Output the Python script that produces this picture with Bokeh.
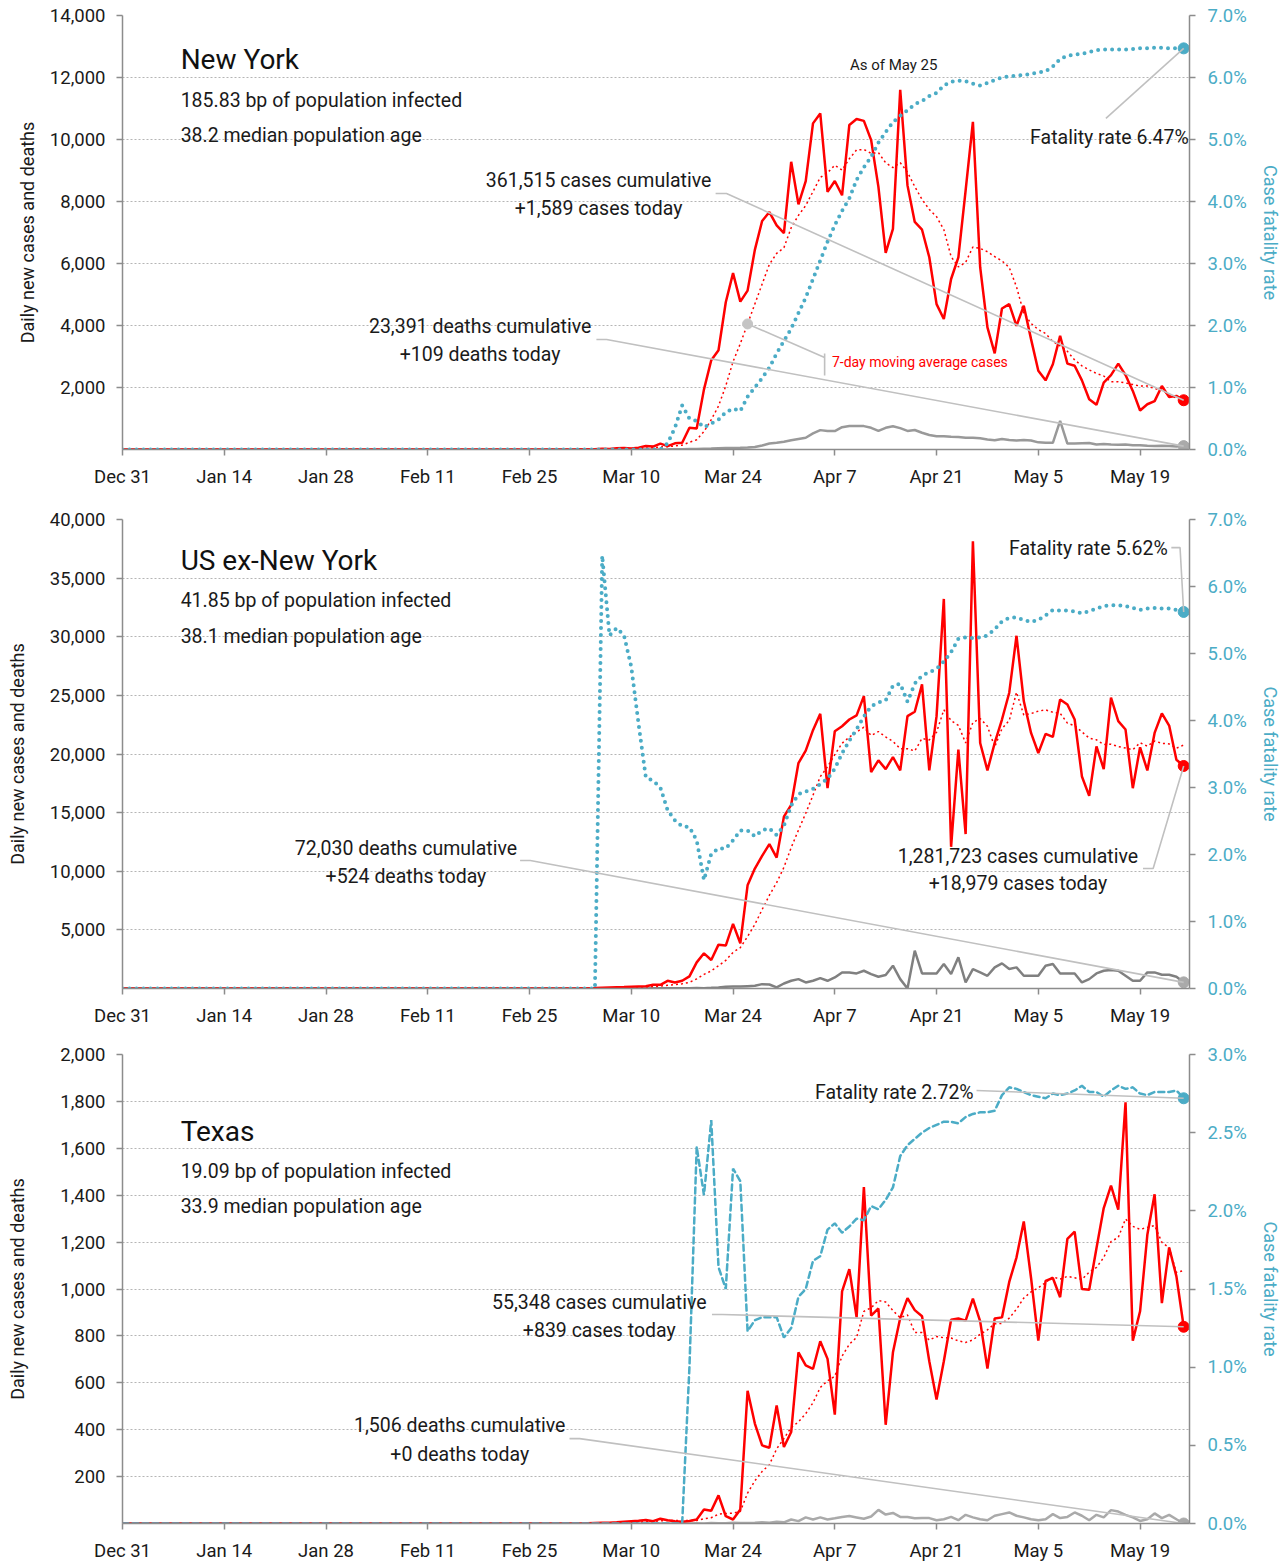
import pandas as pd
from bokeh.plotting import figure
from bokeh.layouts import column
from bokeh.models import (Range1d, LinearAxis, FixedTicker, Label, NumeralTickFormatter,
                          PrintfTickFormatter, ColumnDataSource)
from bokeh.embed import file_html
from bokeh.resources import INLINE

# ---------------------------------------------------------------- data
N_DAYS = 147
START = "2019-12-31"
DATES = pd.date_range(START, periods=N_DAYS, freq="D")

TICK_DATES = ["2019-12-31", "2020-01-14", "2020-01-28", "2020-02-11", "2020-02-25", "2020-03-10",
              "2020-03-24", "2020-04-07", "2020-04-21", "2020-05-05", "2020-05-19"]
TICK_LABELS = ["Dec 31", "Jan 14", "Jan 28", "Feb 11", "Feb 25", "Mar 10",
               "Mar 24", "Apr 7", "Apr 21", "May 5", "May 19"]

# New York (values listed up to May 25; earlier days are zero)
NY_CASES = [1, 0, 9, 11, 10, 22, 14, 37, 47, 30,
            60, 110, 95, 190, 110, 200, 220, 700, 680, 1940,
            2880, 3200, 4750, 5690, 4770, 5125, 6440, 7370, 7660, 7230,
            6980, 9280, 7910, 8660, 10520, 10840, 8310, 8660, 8200, 10470,
            10660, 10600, 9980, 8470, 6340, 7120, 11600, 8520, 7340, 7090,
            6200, 4690, 4210, 5500, 6200, 8360, 10570, 5880, 3940, 3100,
            4550, 4690, 3990, 4640, 3560, 2540, 2230, 2750, 3670, 2770,
            2700, 2230, 1620, 1440, 2160, 2400, 2770, 2400, 1890, 1260,
            1460, 1560, 2050, 1690, 1730, 1589]
NY_DEATHS = [3, 5, 8, 10, 15, 20, 25, 30, 40,
             45, 50, 55, 65, 80, 130, 195, 215,
             250, 300, 340, 380, 520, 625, 595, 595, 720, 755,
             760, 755, 700, 600, 700, 750, 690, 600, 630, 540,
             470, 430,
             430, 410, 400, 380, 380, 360, 320, 300,
             340, 310, 290, 310, 290, 230, 215, 215, 920, 190,
             190, 200, 210, 160, 180, 160, 150, 160, 140, 140,
             120, 110, 120, 110, 100, 109]
NY_RATE = [0.10, 0.35, 0.71, 0.50, 0.46, 0.36, 0.42, 0.48, 0.60, 0.66,
           0.62, 0.85, 1.00, 1.15, 1.32, 1.55, 1.75, 1.95, 2.20, 2.45,
           2.75, 3.05, 3.35, 3.62, 3.85, 4.05, 4.35, 4.55, 4.72, 4.95,
           5.12, 5.28, 5.38, 5.47, 5.57, 5.62, 5.70, 5.75, 5.87, 5.93,
           5.95, 5.94, 5.90, 5.87, 5.91, 5.96, 6.00, 6.02, 6.03, 6.04,
           6.06, 6.08, 6.10, 6.18, 6.30, 6.35, 6.37, 6.38, 6.41, 6.44,
           6.45, 6.45, 6.45, 6.45, 6.46, 6.47, 6.47, 6.48, 6.48, 6.47,
           6.47, 6.47]

# US excluding New York
US_CASES = [5, 8, 10, 20, 25, 40, 60, 80,
            100, 120, 150, 180, 200, 314, 314, 657, 514, 657,
            1030, 2230, 3000, 2430, 3740, 3660, 5510, 3860, 8800, 10230,
            11310, 12310, 11170, 14660, 15660, 19230, 20290, 22030, 23430, 17090,
            21940, 22370, 22940, 23290, 24940, 18460, 19460, 18710, 19742, 18600,
            23227, 23599, 25942, 18600, 23227, 33227, 12085, 20370, 13170, 38140,
            20942, 18600, 20942, 22942, 25227, 30084, 24513, 21799, 20085, 21713,
            21456, 24656, 24227, 22942, 18085, 16428, 20656, 18713, 24799, 22799,
            22085, 17085, 20570, 18600, 21799, 23456, 22428, 19513, 18979]
US_DEATHS = [1, 0, 2, 3, 2, 4, 3, 4, 5, 8,
             7, 8, 10, 15, 12, 18, 20, 25, 30, 40,
             30, 57, 86, 143, 171, 171, 200, 228, 371, 343,
             100, 428, 657, 800, 514, 657, 886, 657, 943, 1371,
             1371, 1286, 1514, 1228, 1000, 1150, 1943, 800, 0, 3228,
             1286, 1286, 1286, 2086, 1228, 2657, 514, 1657, 1371, 1086,
             1800, 2143, 1657, 1800, 1086, 1086, 1086, 1943, 2086, 1286,
             1286, 1286, 514, 800, 1286, 1514, 1571, 1514, 1086, 657,
             657, 1371, 1371, 1171, 1171, 1000, 524]
US_RATE = [6.46, 5.27, 5.38, 5.27, 4.80, 3.95, 3.15, 3.10, 3.00, 2.66,
           2.51, 2.42, 2.41, 2.21, 1.62, 2.01, 2.09, 2.09, 2.21, 2.36,
           2.36, 2.27, 2.36, 2.39, 2.29, 2.43, 2.73, 2.90, 2.94, 2.98,
           3.05, 3.13, 3.28, 3.51, 3.70, 3.87, 4.06, 4.21, 4.27, 4.30,
           4.52, 4.55, 4.28, 4.55, 4.67, 4.72, 4.77, 4.88, 5.02, 5.22,
           5.24, 5.23, 5.24, 5.27, 5.36, 5.48, 5.53, 5.54, 5.50, 5.47,
           5.50, 5.57, 5.65, 5.64, 5.64, 5.63, 5.60, 5.63, 5.67, 5.71,
           5.72, 5.72, 5.71, 5.68, 5.65, 5.67, 5.68, 5.67, 5.67, 5.65,
           5.62]

# Texas
TX_CASES = [1, 2, 3, 3, 5, 8, 10, 12, 15, 10, 20,
            14, 10, 7, 11, 17, 60, 54, 120, 31, 17, 60,
            566, 426, 333, 323, 503, 326, 390, 730, 674, 659,
            777, 702, 464, 990, 1085, 879, 1435, 886, 917, 421,
            730, 876, 961, 910, 884, 692, 529, 692, 869, 874,
            865, 959, 862, 661, 874, 879, 1030, 1135, 1288, 1047,
            780, 1035, 1047, 965, 1214, 1245, 1000, 997, 1174, 1345,
            1441, 1338, 1796, 780, 905, 1231, 1404, 940, 1177, 1054, 839]
TX_DEATHS = [1, 0, 2, 1, 1, 3, 2, 2, 3, 5, 3,
             8, 5, 17, 10, 26, 17, 26, 17, 22, 28,
             32, 26, 20, 30, 58, 38, 45, 28, 28, 22,
             23, 23, 14, 18, 28, 14, 37, 26, 18, 14,
             33, 40, 47, 33, 26, 18, 14, 18, 40, 23,
             28, 47, 33, 14, 37, 26, 57, 51, 37, 26,
             11, 18, 43, 23, 37, 18, 0]
TX_RATE = [1.00, 2.41, 2.10, 2.58, 1.64, 1.50, 2.27, 2.19, 1.23, 1.30,
           1.32, 1.32, 1.32, 1.19, 1.25, 1.45, 1.50, 1.68, 1.71, 1.88,
           1.92, 1.86, 1.90, 1.95, 1.94, 2.03, 2.01, 2.07, 2.15, 2.35,
           2.42, 2.46, 2.50, 2.53, 2.55, 2.57, 2.57, 2.56, 2.60, 2.62,
           2.63, 2.63, 2.64, 2.74, 2.79, 2.78, 2.76, 2.74, 2.73, 2.72,
           2.75, 2.74, 2.75, 2.77, 2.80, 2.76, 2.76, 2.73, 2.77, 2.80,
           2.78, 2.79, 2.75, 2.74, 2.76, 2.76, 2.76, 2.77, 2.72]

# ---------------------------------------------------------------- style
TEAL = "#4bacc6"
RED = "#ff0000"
INK = "#1a1a1a"
CONN = "#c0c0c0"
AXIS = "#8c8c8c"
FONT = "Roboto"
ANN = "19.5px"


def pad(values):
    return [0.0] * (N_DAYS - len(values)) + [float(v) for v in values]


def ms(d):
    return (pd.Timestamp(START) + pd.Timedelta(days=d)).value / 1e6


def panel(cases, deaths, rate, ymax, ystep, rmax, rstep, height, btop, bbot,
          rate_dash, rate_width, death_color, ylab_standoff):
    cases, deaths, rate = pad(cases), pad(deaths), pad(rate)
    ma = pd.Series(cases).rolling(7).mean().tolist()
    p = figure(width=1283, height=height, x_axis_type="datetime", output_backend="svg",
               toolbar_location=None, min_border_left=122, min_border_right=91,
               min_border_top=btop, min_border_bottom=bbot,
               x_range=Range1d(ms(0), ms(146.8)), y_range=Range1d(0, ymax))
    p.extra_y_ranges = {"rate": Range1d(0, rmax)}
    p.outline_line_color = None
    p.xgrid.visible = False

    xticks = [int(pd.Timestamp(t).value // 10**6) for t in TICK_DATES]
    xa = p.xaxis[0]
    xa.ticker = FixedTicker(ticks=xticks)
    xa.major_label_overrides = {t: l for t, l in zip(xticks, TICK_LABELS)}
    ya = p.yaxis[0]
    yticks = list(range(ystep, ymax + 1, ystep))
    ya.ticker = FixedTicker(ticks=yticks)
    ya.formatter = NumeralTickFormatter(format="0,0")
    ya.axis_label = "Daily new cases and deaths"
    p.ygrid.ticker = FixedTicker(ticks=yticks)
    p.ygrid.grid_line_color = "#b5b5b5"
    p.ygrid.grid_line_dash = "2 2"
    p.ygrid.grid_line_width = 1

    ra = LinearAxis(y_range_name="rate",
                    ticker=FixedTicker(ticks=[i * rstep for i in range(int(round(rmax / rstep)) + 1)]),
                    formatter=PrintfTickFormatter(format="%.1f%%"),
                    axis_label="Case fatality rate")
    p.add_layout(ra, "right")

    for ax in (xa, ya, ra):
        ax.axis_line_color = AXIS
        ax.axis_line_width = 1.5
        ax.major_tick_line_color = AXIS
        ax.major_tick_line_width = 1.5
        ax.major_tick_out = 6
        ax.major_tick_in = 0
        ax.minor_tick_line_color = None
        ax.major_label_text_font = FONT
        ax.major_label_text_font_size = "18.5px"
        ax.major_label_text_color = INK
        ax.axis_label_text_font = FONT
        ax.axis_label_text_font_size = "18px"
        ax.axis_label_text_font_style = "normal"
        ax.axis_label_text_color = INK
    xa.major_label_standoff = 10
    ya.major_label_standoff = 11
    ya.axis_label_standoff = ylab_standoff
    ra.major_label_standoff = 12
    ra.axis_label_standoff = 10
    ra.major_label_text_color = TEAL
    ra.axis_label_text_color = TEAL

    src = ColumnDataSource(dict(date=DATES, cases=cases, ma=ma, deaths=deaths, rate=rate))
    p.line("date", "deaths", source=src, color=death_color, line_width=2.5)
    p.line("date", "ma", source=src, color=RED, line_width=1.5, line_dash="2 3")
    p.line("date", "cases", source=src, color=RED, line_width=2.5)
    p.line("date", "rate", source=src, y_range_name="rate", color=TEAL,
           line_width=rate_width, line_dash=rate_dash, line_cap="round")

    last = DATES[-1]
    p.scatter(x=[last], y=[deaths[-1]], size=11, color="#aaaaaa")
    p.scatter(x=[last], y=[cases[-1]], size=11, color=RED)
    p.scatter(x=[last], y=[rate[-1]], y_range_name="rate", size=11, color=TEAL)
    return p, dict(cases=cases, deaths=deaths, rate=rate, ma=ma)


def label(p, d, y, text, size=ANN, align="center", color=INK, rng="default"):
    p.add_layout(Label(x=ms(d), y=y, text=text, text_font=FONT, text_font_size=size,
                       text_align=align, text_baseline="middle", text_color=color,
                       y_range_name=rng))


def connector(p, pts, rng="default"):
    p.line([ms(d) for d, _ in pts], [v for _, v in pts], color=CONN, line_width=1.6,
           y_range_name=rng)


def header(p, title, sub1, sub2, y0, y1, y2):
    label(p, 8.0, y0, title, size="28px", align="left", color="#111111")
    label(p, 8.0, y1, sub1, size="19.5px", align="left")
    label(p, 8.0, y2, sub2, size="19.5px", align="left")


# ---------------------------------------------------------------- New York
p1, s1 = panel(NY_CASES, NY_DEATHS, NY_RATE, 14000, 2000, 7, 1, 500, 15, 51,
               "0 7", 4, "#999999", 9)
header(p1, "New York", "185.83 bp of population infected", "38.2 median population age",
       12580, 11258, 10129)
label(p1, 106.1, 12419, "As of May 25", size="15px")
label(p1, 146.7, 10065, "Fatality rate 6.47%", align="right")
connector(p1, [(135.3, 5.34), (146, s1["rate"][-1])], rng="rate")
label(p1, 65.5, 8678, "361,515 cases cumulative")
label(p1, 65.5, 7775, "+1,589 cases today")
connector(p1, [(81.6, 8258), (83.1, 8258), (146, s1["cases"][-1])])
label(p1, 49.2, 3968, "23,391 deaths cumulative")
label(p1, 49.2, 3065, "+109 deaths today")
connector(p1, [(65.2, 3549), (66.6, 3549), (146, s1["deaths"][-1])])
label(p1, 97.6, 2823, "7-day moving average cases", size="14px", align="left", color=RED)
connector(p1, [(86, s1["ma"][86]), (96.6, 2968)])
connector(p1, [(96.6, 2387), (96.6, 3097)])
p1.scatter(x=[DATES[86]], y=[s1["ma"][86]], size=10, color="#c4c4c4")

# ---------------------------------------------------------------- US ex-New York
p2, s2 = panel(US_CASES, US_DEATHS, US_RATE, 40000, 5000, 7, 1, 540, 19, 52,
               "0 7", 4, "#808080", 19)
header(p2, "US ex-New York", "41.85 bp of population infected", "38.1 median population age",
       36504, 33093, 30022)
label(p2, 143.8, 37528, "Fatality rate 5.62%", align="right")
connector(p2, [(144.3, 6.58), (145.5, 6.58), (146, s2["rate"][-1])], rng="rate")
label(p2, 123.2, 11258, "1,281,723 cases cumulative")
label(p2, 123.2, 8955, "+18,979 cases today")
connector(p2, [(140.4, 10235), (141.8, 10235), (146, s2["cases"][-1])])
label(p2, 39.0, 11941, "72,030 deaths cumulative")
label(p2, 39.0, 9552, "+524 deaths today")
connector(p2, [(54.7, 10917), (56.1, 10917), (146, s2["deaths"][-1])])

# ---------------------------------------------------------------- Texas
p3, s3 = panel(TX_CASES, TX_DEATHS, TX_RATE, 2000, 200, 3, 0.5, 524, 14, 41,
               "6 4", 2.5, "#aaaaaa", 29)
header(p3, "Texas", "19.09 bp of population infected", "33.9 median population age",
       1671, 1501, 1352)
label(p3, 117.1, 1838, "Fatality rate 2.72%", align="right")
connector(p3, [(117.5, 2.77), (146, s3["rate"][-1])], rng="rate")
label(p3, 65.6, 942, "55,348 cases cumulative")
label(p3, 65.6, 823, "+839 cases today")
connector(p3, [(81.1, 891), (82.5, 891), (146, s3["cases"][-1])])
label(p3, 46.4, 418, "1,506 deaths cumulative")
label(p3, 46.4, 294, "+0 deaths today")
connector(p3, [(61.5, 362), (62.9, 362), (146, s3["deaths"][-1])])

layout = column(p1, p2, p3)
open("out.html", "w").write(file_html(layout, INLINE))
